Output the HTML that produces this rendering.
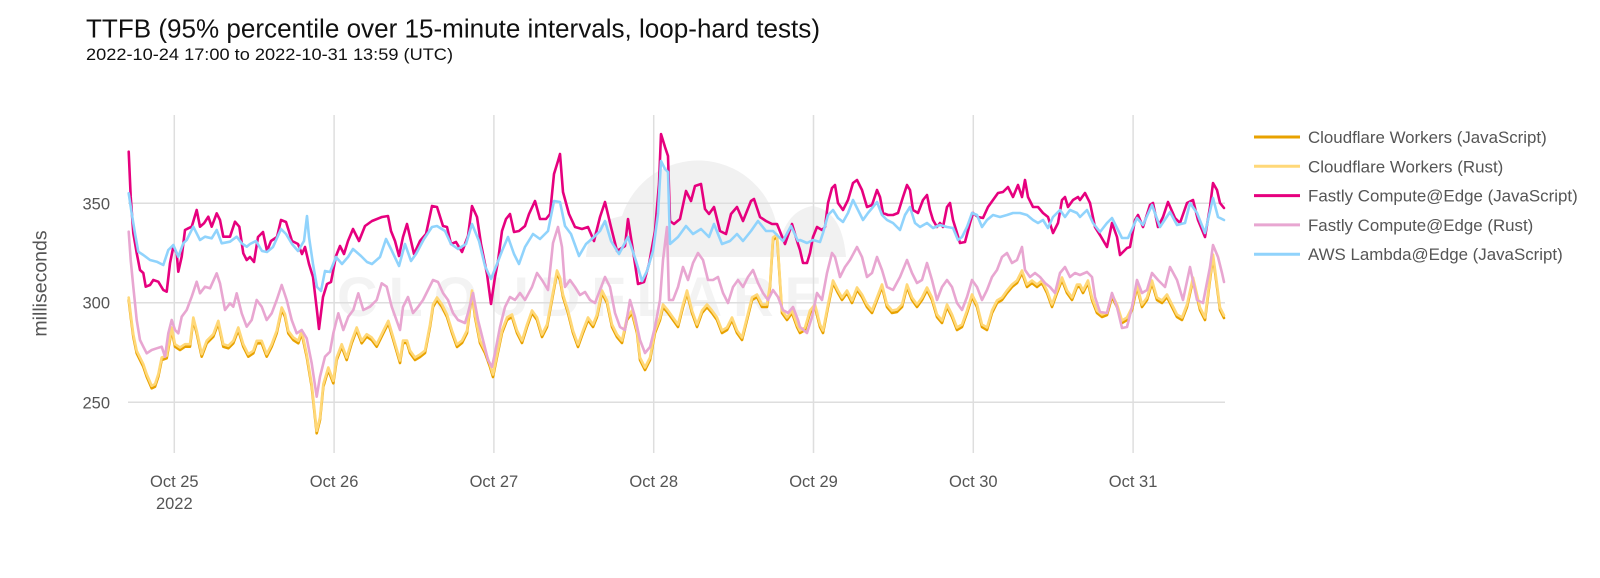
<!DOCTYPE html>
<html>
<head>
<meta charset="utf-8">
<style>
  html, body { margin: 0; padding: 0; background: #ffffff; }
  body { width: 1600px; height: 578px; overflow: hidden; }
  svg { display: block; font-family: "Liberation Sans", Arial, Helvetica, sans-serif; }
</style>
</head>
<body>
<svg width="1600" height="578" viewBox="0 0 1600 578" xmlns="http://www.w3.org/2000/svg">
  <defs>
    <polyline id="cfpts" points="128.7,300 130.7,316.7 133.3,336.7 136.7,353.3 140,360 143.3,366.7 146.7,376.7 151.7,388.3 155,386.7 158.3,376.7 161.7,360 166.7,358.3 171.7,330 175,346.7 180,350 185,346.7 190,346.7 193.3,320 196.7,333.3 201.7,356.7 206.7,343.3 213.3,336.7 218.3,323.3 223.3,346.7 228.3,348.3 233.3,343.3 238.3,330 243.3,346.7 248.3,356.7 253.3,353.3 256.7,343.3 261.7,343.3 266.7,356.7 271.7,346.7 276.7,333.3 281.7,310 285,316.7 288.3,333.3 293.3,340 298.3,343.3 301.7,333.3 306.7,356.7 311.7,386.7 316.7,433.3 320,420 323.3,386.7 328.3,370 333.3,383.3 336.7,360 341.7,346.7 346.7,360 351.7,343.3 356.7,330 361.7,343.3 366.7,336.7 371.7,340 376.7,346.7 383.3,333.3 388.3,323.3 393.3,340 400,363 403,343 407,343 410,353 415,360 420,357 425,353 430,327 433,307 437,300 442,307 447,317 452,333 457,347 462,343 467,333 472,293 475,317 480,343 485,353 490,367 493,377 497,357 502,333 507,320 512,317 517,333 522,343 527,327 532,313 537,320 542,337 547,327 552,300 557,273 560,280 563,297 568,313 573,333 578,347 583,333 588,320 593,327 597,317 602,293 607,303 612,327 617,337 622,343 627,320 632,313 637,333 640,360 645,370 650,360 655,333 660,320 663,307 668,313 673,320 678,327 683,307 687,293 692,313 697,327 702,313 707,307 712,313 717,320 722,333 727,330 732,320 737,333 742,340 747,320 752,300 757,297 762,307 767,307 770,287 773,240 777,237 779,267 782,313 787,320 792,313 797,327 800,333 805,330 810,313 815,307 820,327 823,333 828,307 833,283 838,293 842,300 847,293 852,303 857,290 862,297 867,307 872,313 877,300 882,287 887,307 892,313 897,312 902,307 907,287 912,300 917,307 922,300 927,290 932,300 937,317 942,323 947,307 952,317 957,330 962,327 967,313 972,297 977,307 982,327 987,330 992,313 997,303 1002,300 1007,293 1012,287 1017,283 1022,273 1027,287 1032,283 1037,287 1042,283 1047,293 1052,307 1057,293 1062,280 1067,293 1072,300 1077,287 1080,287 1083,293 1088,283 1092,300 1097,313 1102,317 1107,315 1112,297 1117,307 1122,323 1127,320 1132,310 1137,287 1142,307 1147,300 1152,283 1157,300 1162,303 1167,297 1172,307 1177,317 1182,320 1187,307 1193,280 1200,310 1205,320 1210,280 1213,257 1217,287 1220,310 1224,318"/>
  </defs>
  <rect x="0" y="0" width="1600" height="578" fill="#ffffff"/>

  <!-- watermark -->
  <g fill="#f1f1f1">
    <path d="M 586 257 Q 588 222 622 216 A 80 80 0 0 1 776 222 Q 778 240 780 257 Z"/>
    <path d="M 777 257 Q 782 212 812 206 Q 842 210 846 257 Z"/>
  </g>
  <text x="337" y="316" font-size="56" font-weight="bold" fill="#f3f3f3" textLength="485" lengthAdjust="spacing">CLOUDFLARE</text>

  <!-- grid -->
  <g stroke="#dedede" stroke-width="1.5" fill="none">
    <line x1="128" y1="203.3" x2="1225" y2="203.3"/>
    <line x1="128" y1="302.7" x2="1225" y2="302.7"/>
    <line x1="128" y1="402.3" x2="1225" y2="402.3"/>
    <line x1="174.3" y1="115" x2="174.3" y2="453"/>
    <line x1="334.1" y1="115" x2="334.1" y2="453"/>
    <line x1="493.9" y1="115" x2="493.9" y2="453"/>
    <line x1="653.7" y1="115" x2="653.7" y2="453"/>
    <line x1="813.5" y1="115" x2="813.5" y2="453"/>
    <line x1="973.3" y1="115" x2="973.3" y2="453"/>
    <line x1="1133.1" y1="115" x2="1133.1" y2="453"/>
  </g>

  <!-- series -->
  <g fill="none" stroke-width="2.6" stroke-linejoin="round" stroke-linecap="round">
    <!-- Cloudflare Workers (JavaScript) -->
    <use href="#cfpts" stroke="#e8a200"/>
    <!-- Cloudflare Workers (Rust) -->
    <use href="#cfpts" stroke="#ffd878" transform="translate(0,-2.5)"/>
    <!-- Fastly Compute@Edge (JavaScript) -->
    <polyline stroke="#e6007e" points="128.7,151.7 130.7,196.7 133.3,233 136.7,253 140,270 143.3,273 145.7,286.7 150,285 153.3,280 158.3,281.7 163.3,290 166.7,291.7 170,263.3 173.3,246.7 176.7,253.3 178.3,271.7 181.7,256.7 185,230 188.3,228.3 191.7,226.7 196.7,210 200,226.7 204,223.3 208.3,216.7 211.7,226.7 216.7,213.3 220,220 223.3,236.7 230,236.7 235,221.7 239.3,226.7 243.3,253.3 246.7,260 250,257 254,262 258,237 263,232 267,251 271,241 277,237 281,220 286,222 292,241 298,244 302,254 305,247 309,264 313,277 317,311 319,329 323,297 327,284 331,282 336,256 340,246 344,254 348,241 353,229 359,241 365,226 372,221 382,217 388,216 391,231 395,241 399,256 403,237 407,224 411,241 414,254 420,241 426,234 432,206 437,207 443,226 447,227 451,244 456,242 462,252 468,236 472,206 477,217 481,244 487,274 491,304 495,277 498,261 502,231 506,219 510,214 514,232 519,231 525,226 529,214 535,201 540,219 546,219 550,214 554,174 558,161 560,154 563,192 569,214 575,227 582,229 588,227 594,241 600,217 605,202 611,227 617,251 625,246 628,219 634,257 638,284 644,282 649,264 655,231 659,184 661,134 665,147 668,156 670,221 674,224 680,219 686,191 691,201 695,186 701,184 705,209 709,214 714,207 720,231 726,234 731,214 737,207 743,221 751,201 754,199 760,217 766,221 772,224 777,224 785,244 792,224 798,244 800,250 803,263 807,263 810,253 813,237 817,227 822,230 825,227 828,203 832,188 835,185 838,203 843,210 848,200 853,183 857,180 862,190 867,207 872,205 877,190 880,197 883,213 888,215 893,215 898,213 903,197 907,185 910,190 913,210 918,213 923,200 927,195 930,210 933,220 937,227 940,223 943,227 947,207 950,203 953,220 957,233 960,243 965,242 970,223 973,213 978,217 983,218 988,207 993,200 998,193 1003,192 1008,187 1013,197 1018,185 1022,197 1025,180 1028,197 1033,207 1038,207 1043,213 1048,217 1053,233 1058,223 1062,200 1065,197 1068,207 1073,200 1078,197 1080,200 1085,193 1090,203 1095,227 1100,235 1107,247 1112,223 1117,237 1120,255 1127,248 1130,247 1135,220 1138,215 1143,227 1150,205 1153,203 1158,227 1163,217 1168,202 1175,218 1180,223 1187,203 1193,200 1198,220 1205,237 1210,207 1213,183 1217,190 1220,203 1224,208"/>
    <!-- Fastly Compute@Edge (Rust) -->
    <polyline stroke="#e8a6d1" points="128.7,231.7 130.7,260 133.3,286.7 136.7,320 140,340 143.3,346.7 146.7,353.3 151.7,350 156.7,348.3 161.7,346.7 165,356.7 168.3,333.3 171.7,320 175,330 178.3,333.3 181.7,316.7 186.7,310 191.7,296.7 196.7,281.7 200,293.3 205,286.7 210,288.3 216.7,273.3 220,283.3 225,310 230,303.3 233.3,306.7 236.7,293.3 241.7,313.3 246.7,326.7 251.7,320 256.7,300 261.7,306.7 266.7,320 271.7,313.3 276.7,300 281.7,285 286.7,300 291.7,320 296.7,333.3 301.7,330 306.7,338.3 311.7,363.3 316.7,396.7 320,376.7 325,356.7 330,351.7 333.3,333.3 338.3,313.3 343.3,330 348.3,316.7 353.3,310 358.3,293.3 363.3,310 370,306.7 376.7,300 381.7,283.3 386.7,286.7 391.7,306.7 400,330 403,307 408,297 413,313 418,307 423,300 428,290 433,280 438,282 443,293 448,300 453,313 458,320 465,323 468,313 473,293 478,320 483,340 488,360 492,367 495,353 500,327 505,307 510,297 515,300 520,293 525,300 532,287 537,273 542,280 548,290 553,243 558,227 562,247 565,287 570,280 575,287 580,295 585,292 590,300 595,303 600,290 605,277 610,287 615,313 620,327 625,330 630,300 635,317 640,340 645,353 650,347 655,327 660,300 663,260 667,227 669,300 673,300 678,287 683,267 688,280 693,263 698,253 703,260 708,280 713,280 718,277 723,293 728,303 733,287 738,280 743,287 748,277 753,270 758,283 763,293 768,300 773,290 778,297 783,310 788,313 793,307 798,320 800,327 807,333 812,317 817,293 822,300 827,273 832,253 835,257 840,277 845,267 850,260 857,247 862,257 867,277 872,273 877,257 882,270 887,287 893,290 900,277 907,260 912,273 917,283 922,280 927,263 932,280 937,300 942,287 947,280 952,287 957,303 962,310 967,297 972,280 977,287 982,300 987,290 992,277 997,270 1002,257 1007,253 1012,263 1017,260 1022,247 1025,270 1030,277 1035,273 1040,277 1045,283 1050,287 1055,293 1060,273 1065,267 1070,277 1075,273 1080,275 1087,272 1092,277 1095,297 1100,312 1107,313 1112,293 1117,307 1122,328 1127,327 1132,307 1137,280 1142,293 1147,290 1152,273 1158,280 1165,287 1170,267 1177,280 1183,300 1190,267 1197,300 1203,303 1210,267 1213,245 1218,257 1222,273 1224,282"/>
    <!-- AWS Lambda@Edge (JavaScript) -->
    <polyline stroke="#90d3fc" points="128.7,193.3 131.7,213.3 135,233.3 138.3,251.7 143.3,255 150,260 156.7,261.7 163.3,265 168.3,250 173.3,245 178.3,256.7 183.3,243.3 186.7,240 193.3,226.7 200,240 205,236.7 211.7,238.3 216.7,230 221.7,243.3 230,241.7 236.7,236.7 241.7,243.3 246.7,246.7 250,244 256,241 262,251 267,252 273,247 281,229 286,234 292,244 298,251 304,241 307,216 309,237 313,264 317,287 321,291 325,271 330,272 336,257 342,264 348,257 353,249 361,256 367,262 372,264 380,257 386,239 391,249 399,266 405,244 411,261 416,254 424,239 432,227 437,226 445,231 451,244 458,249 466,244 472,224 479,241 485,266 491,279 497,264 502,251 508,237 514,254 519,264 525,247 533,234 540,239 548,231 554,201 560,202 565,226 571,234 579,256 586,244 594,237 600,231 605,221 611,241 619,254 628,237 636,261 642,281 647,271 653,251 658,214 661,161 665,169 668,172 670,244 678,237 686,226 693,234 701,229 709,237 714,224 722,244 730,241 737,234 743,241 751,231 758,221 766,231 773,231 783,241 791,226 798,241 800,240 807,243 813,240 820,242 823,233 828,215 833,210 838,218 843,222 848,213 853,200 858,210 863,220 868,213 873,207 877,202 882,215 887,220 893,223 900,230 905,215 910,207 915,223 920,227 927,223 933,228 940,225 947,227 953,228 958,240 962,237 967,227 972,213 977,215 982,227 987,220 993,215 1000,217 1007,215 1013,213 1020,213 1027,215 1033,220 1038,223 1043,220 1048,228 1053,217 1060,210 1065,217 1070,210 1077,213 1080,217 1087,210 1093,223 1100,232 1107,223 1112,218 1117,228 1122,238 1128,238 1133,227 1137,218 1143,225 1152,205 1160,227 1170,212 1177,225 1185,223 1190,203 1197,213 1205,233 1213,198 1218,217 1224,220"/>
  </g>

  <!-- y axis labels -->
  <g font-size="16.5" fill="#555555" text-anchor="end">
    <text x="110" y="209.3">350</text>
    <text x="110" y="308.7">300</text>
    <text x="110" y="408.3">250</text>
  </g>
  <text transform="translate(46.5,283.5) rotate(-90)" text-anchor="middle" font-size="19.5" fill="#555555">milliseconds</text>

  <!-- x axis labels -->
  <g font-size="16.5" fill="#555555" text-anchor="middle">
    <text x="174.3" y="487">Oct 25</text>
    <text x="174.3" y="509">2022</text>
    <text x="334.1" y="487">Oct 26</text>
    <text x="493.9" y="487">Oct 27</text>
    <text x="653.7" y="487">Oct 28</text>
    <text x="813.5" y="487">Oct 29</text>
    <text x="973.3" y="487">Oct 30</text>
    <text x="1133.1" y="487">Oct 31</text>
  </g>

  <!-- legend -->
  <g stroke-width="3" stroke-linecap="butt">
    <line x1="1254" y1="137" x2="1300" y2="137" stroke="#e8a200"/>
    <line x1="1254" y1="166.3" x2="1300" y2="166.3" stroke="#ffd878"/>
    <line x1="1254" y1="195.6" x2="1300" y2="195.6" stroke="#e6007e"/>
    <line x1="1254" y1="224.9" x2="1300" y2="224.9" stroke="#e8a6d1"/>
    <line x1="1254" y1="254.2" x2="1300" y2="254.2" stroke="#90d3fc"/>
  </g>
  <g font-size="16.5" fill="#555555">
    <text x="1308" y="143" textLength="238.7" lengthAdjust="spacingAndGlyphs">Cloudflare Workers (JavaScript)</text>
    <text x="1308" y="172.3" textLength="195.3" lengthAdjust="spacingAndGlyphs">Cloudflare Workers (Rust)</text>
    <text x="1308" y="201.6" textLength="269.7" lengthAdjust="spacingAndGlyphs">Fastly Compute@Edge (JavaScript)</text>
    <text x="1308" y="230.9" textLength="225.3" lengthAdjust="spacingAndGlyphs">Fastly Compute@Edge (Rust)</text>
    <text x="1308" y="260.2" textLength="254.7" lengthAdjust="spacingAndGlyphs">AWS Lambda@Edge (JavaScript)</text>
  </g>

  <!-- title -->
  <text x="86" y="37.3" font-size="25.5" fill="#111111" textLength="734" lengthAdjust="spacingAndGlyphs">TTFB (95% percentile over 15-minute intervals, loop-hard tests)</text>
  <text x="86" y="60" font-size="16.5" fill="#111111" textLength="367" lengthAdjust="spacingAndGlyphs">2022-10-24 17:00 to 2022-10-31 13:59 (UTC)</text>
</svg>
</body>
</html>
